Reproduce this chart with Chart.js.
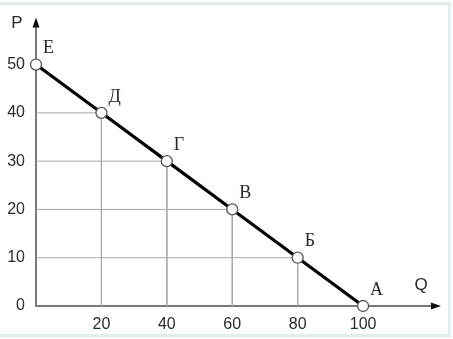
<!DOCTYPE html>
<html>
<head>
<meta charset="utf-8">
<script src="https://cdn.jsdelivr.net/npm/chart.js@4/dist/chart.umd.min.js"></script>
<style>
    html, body { margin: 0; padding: 0; background: #fff; }
    #wrap { position: relative; width: 453px; height: 339px; }
</style>
</head>
<body>
<div id="wrap"><canvas id="demand-chart"></canvas></div>
<script>
// demand schedule points
const pointNames = ['Е', 'Д', 'Г', 'В', 'Б', 'А'];
const quantities = [0, 20, 40, 60, 80, 100];
const prices = [50, 40, 30, 20, 10, 0];
const qTicks = [20, 40, 60, 80, 100];
const pTicks = [0, 10, 20, 30, 40, 50];

const axisColor = '#7a7a7a';
const gridColor = '#a8a8a8';
const textColor = '#2a2a2a';

let datasets = [
    {
        label: 'demand',
        data: quantities.map((q, i) => ({ x: q, y: prices[i] })),
        showLine: true,
        borderColor: '#000000',
        borderWidth: 3.2,
        pointRadius: 5.5,
        pointBackgroundColor: '#ffffff',
        pointBorderColor: '#555555',
        pointBorderWidth: 1.3,
        clip: false,
        order: 0
    }
];

// drop lines from each point to both axes
for (let i = 0; i < quantities.length; i++) {
    if (quantities[i] == 0 || prices[i] == 0) {
        continue;
    }
    datasets.push({
        label: 'guide ' + pointNames[i],
        data: [
            { x: 0, y: prices[i] },
            { x: quantities[i], y: prices[i] },
            { x: quantities[i], y: 0 }
        ],
        showLine: true,
        borderColor: gridColor,
        borderWidth: 1,
        pointRadius: 0,
        order: 1
    });
}

const decorPlugin = {
    id: 'decor',
    afterDatasetsDraw: function (chart) {
        const ctx = chart.ctx;
        const area = chart.chartArea;
        ctx.save();

        // arrow heads
        ctx.fillStyle = '#111111';
        ctx.beginPath();
        ctx.moveTo(area.left, area.top - 3);
        ctx.lineTo(area.left - 3.5, area.top + 7);
        ctx.lineTo(area.left + 3.5, area.top + 7);
        ctx.closePath();
        ctx.fill();
        ctx.beginPath();
        ctx.moveTo(area.right + 3, area.bottom);
        ctx.lineTo(area.right - 7, area.bottom - 3.5);
        ctx.lineTo(area.right - 7, area.bottom + 3.5);
        ctx.closePath();
        ctx.fill();

        // axis names
        ctx.fillStyle = textColor;
        ctx.font = '17px "Liberation Sans", Arial, sans-serif';
        ctx.textAlign = 'center';
        ctx.textBaseline = 'middle';
        ctx.fillText('P', 17, 23);
        ctx.fillText('Q', 421, 285);

        // point letters
        const meta = chart.getDatasetMeta(0);
        ctx.font = '18px "Liberation Serif", "DejaVu Serif", serif';
        ctx.textAlign = 'left';
        ctx.textBaseline = 'middle';
        meta.data.forEach((pt, i) => {
            ctx.fillText(pointNames[i], pt.x + 7, pt.y - 16);
        });

        // light frame round the picture
        ctx.strokeStyle = '#e2edf1';
        ctx.lineWidth = 3;
        ctx.strokeRect(-3, 3.5, 452.5, 332);
        ctx.restore();
    }
};

new Chart(document.getElementById('demand-chart'), {
    type: 'scatter',
    data: { datasets: datasets },
    options: {
        responsive: true,
        maintainAspectRatio: false,
        animation: false,
        layout: {
            padding: { left: 0, top: 15, right: 15, bottom: 0 }
        },
        plugins: {
            legend: { display: false },
            tooltip: { enabled: false }
        },
        scales: {
            x: {
                type: 'linear',
                min: 0,
                max: 122.9,
                afterBuildTicks: function (scale) {
                    scale.ticks = qTicks.map(v => ({ value: v }));
                },
                afterFit: function (scale) {
                    scale.height = 33;
                },
                grid: { display: false, drawTicks: false },
                border: { display: true, color: axisColor, width: 2 },
                ticks: {
                    padding: 9,
                    color: textColor,
                    font: { family: '"Liberation Sans", Arial, sans-serif', size: 16 },
                    maxRotation: 0
                }
            },
            y: {
                type: 'linear',
                min: 0,
                max: 59.1,
                afterBuildTicks: function (scale) {
                    scale.ticks = pTicks.map(v => ({ value: v }));
                },
                afterFit: function (scale) {
                    scale.width = 36;
                },
                grid: { display: false, drawTicks: false },
                border: { display: true, color: axisColor, width: 2 },
                ticks: {
                    padding: 11,
                    color: textColor,
                    font: { family: '"Liberation Sans", Arial, sans-serif', size: 16 }
                }
            }
        }
    },
    plugins: [decorPlugin]
});
</script>
</body>
</html>
